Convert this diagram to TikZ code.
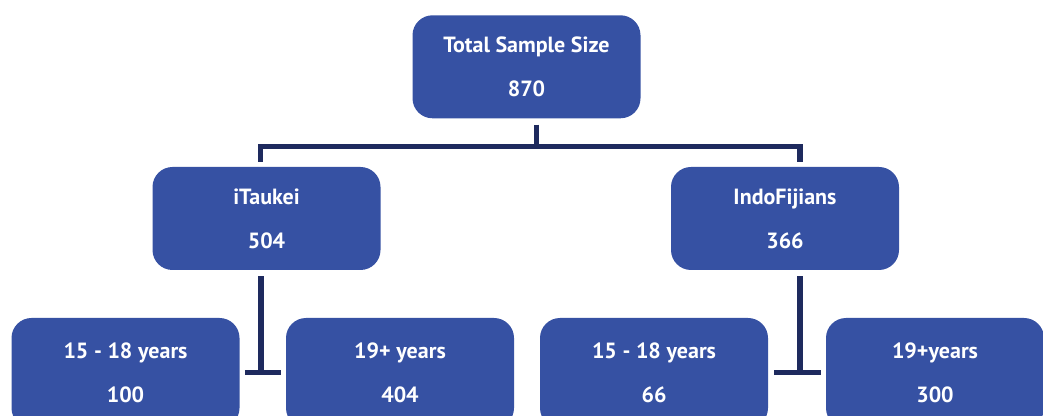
\documentclass[tikz,border=0pt]{standalone}
\usepackage{fontspec}
\setmainfont{PT Sans}
\definecolor{boxblue}{HTML}{3651A3}
\definecolor{linenavy}{HTML}{1E2A5E}
\begin{document}
\begin{tikzpicture}[x=0.75pt,y=-0.75pt,
  box/.style={fill=boxblue, rounded corners=15pt, minimum width=171pt, minimum height=77.25pt,
    text=white, align=center, inner sep=0pt, font=\bfseries\fontsize{16.5}{19.8}\selectfont},
  lowbox/.style={box, minimum height=82.5pt},
  conn/.style={draw=linenavy, line width=3.9pt, miter limit=10}]
\clip (0,0) rectangle (1043,416);
\node[box] (total) at (526.5,66.8) {Total Sample Size\\[13.2pt]870};
\node[box] (ita) at (266.5,218.5) {iTaukei\\[13.2pt]504};
\node[box] (indo) at (785,218.5) {IndoFijians\\[13.2pt]366};
\node[lowbox] (ia) at (125.5,373) {15 - 18 years\\[13.2pt]100};
\node[lowbox] (ib) at (400,373) {19+ years\\[13.2pt]404};
\node[lowbox] (ja) at (654,373) {15 - 18 years\\[13.2pt]66};
\node[lowbox, minimum width=163.5pt] (jb) at (935,373) {19+years\\[13.2pt]300};
% top connectors
\draw[conn] ([xshift=7.5pt,yshift=-4.5pt]total.south) -- ++(0,22.5);
\draw[conn] ([xshift=-4.5pt,yshift=3.75pt]ita.north) -- ++(0,-15.5) -| ([xshift=11.25pt,yshift=3.75pt]indo.north);
% T connectors
\draw[conn] ([xshift=-4.1pt,yshift=-4.5pt]ita.south) -- ++(0,96) coordinate (tl);
\draw[conn] ([xshift=3.75pt]tl -| ia.east) -- ([xshift=-3.75pt]tl -| ib.west);
\draw[conn] ([xshift=11.25pt,yshift=-4.5pt]indo.south) -- ++(0,96) coordinate (tr);
\draw[conn] ([xshift=4.5pt]tr -| ja.east) -- ([xshift=-3.75pt]tr -| jb.west);
\end{tikzpicture}
\end{document}
